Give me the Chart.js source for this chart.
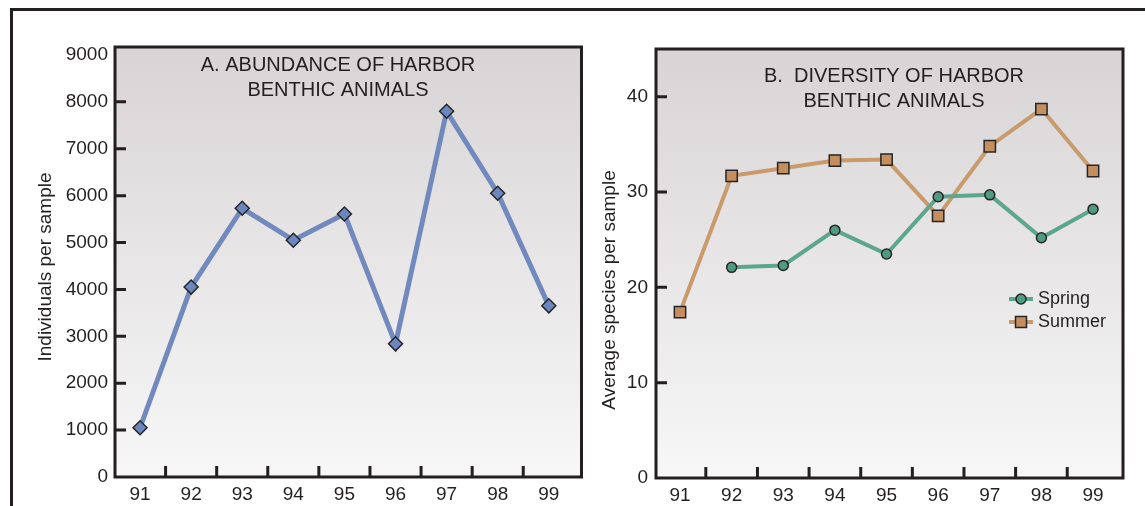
<!DOCTYPE html>
<html>
<head>
<meta charset="utf-8">
<script src="https://cdn.jsdelivr.net/npm/chart.js@4.4.1/dist/chart.umd.min.js"></script>
<style>
  html, body { margin: 0; padding: 0; background: #fff; }
  #page { position: relative; width: 1145px; height: 506px; overflow: hidden; }
  #frame { position: absolute; left: 10px; top: 8px; right: -10px; bottom: -10px;
           border-left: 3px solid #231f20; border-top: 3px solid #231f20; }
  .box { position: absolute; top: 0; height: 506px; }
  #boxA { left: 0; width: 590px; }
  #boxB { left: 580px; width: 565px; }
</style>
</head>
<body>
<div id="page">
  <div id="frame"></div>
  <div class="box" id="boxA"><canvas id="chartA"></canvas></div>
  <div class="box" id="boxB"><canvas id="chartB"></canvas></div>
</div>
<script>
// values
const years = [91, 92, 93, 94, 95, 96, 97, 98, 99];
const abundance = [1050, 4050, 5730, 5050, 5610, 2840, 7800, 6050, 3650];
const spring = [null, 22.1, 22.3, 26.0, 23.5, 29.5, 29.7, 25.2, 28.2];
const summer = [17.4, 31.7, 32.5, 33.3, 33.4, 27.5, 34.8, 38.7, 32.2];
const abundanceTicks = [0, 1000, 2000, 3000, 4000, 5000, 6000, 7000, 8000, 9000];
const diversityTicks = [0, 10, 20, 30, 40];

const INK = '#231f20';
const FONT = '"Liberation Sans", Arial, sans-serif';
const tickFont = { family: FONT, size: 19 };

// tick marks sit between the years
const yearMarks = years.slice(1).map(y => y - 0.5);

const pts = vals => vals.map((v, i) => ({ x: years[i], y: v }));

// background, frame, inward ticks, titles and legend
const panelPlugin = {
  id: 'panel',
  beforeDraw(chart, args, opts) {
    const { ctx, chartArea: a } = chart;
    const g = ctx.createLinearGradient(0, a.top, 0, a.bottom);
    g.addColorStop(0, '#d8d4d6');
    g.addColorStop(1, '#f7f7f7');
    ctx.save();
    ctx.fillStyle = g;
    ctx.fillRect(a.left, a.top, a.right - a.left, a.bottom - a.top);
    ctx.restore();
  },
  afterDraw(chart, args, opts) {
    const { ctx, chartArea: a, scales } = chart;
    ctx.save();
    ctx.strokeStyle = INK;
    ctx.lineWidth = 3;
    ctx.beginPath();
    opts.xMarks.forEach(v => {
      const x = scales.x.getPixelForValue(v);
      ctx.moveTo(x, a.bottom);
      ctx.lineTo(x, a.bottom - 11);
    });
    opts.yMarks.forEach(v => {
      const y = scales.y.getPixelForValue(v);
      ctx.moveTo(a.left, y);
      ctx.lineTo(a.left + 11, y);
    });
    ctx.stroke();
    ctx.strokeRect(a.left, a.top, a.right - a.left, a.bottom - a.top);

    ctx.fillStyle = INK;
    ctx.textAlign = 'center';
    ctx.textBaseline = 'middle';
    ctx.font = '20px ' + FONT;
    opts.title.forEach((t, i) => ctx.fillText(t, opts.titleX, opts.titleY + i * 25));

    ctx.save();
    ctx.translate(opts.axisX, opts.axisY);
    ctx.rotate(-Math.PI / 2);
    ctx.font = '19px ' + FONT;
    ctx.fillText(opts.axisTitle, 0, 0);
    ctx.restore();

    if (opts.legend) {
      const L = opts.legend;
      ctx.textAlign = 'left';
      ctx.font = '18px ' + FONT;
      chart.data.datasets.forEach((ds, i) => {
        const y = L.y + i * 23;
        ctx.strokeStyle = ds.borderColor;
        ctx.lineWidth = 4;
        ctx.beginPath();
        ctx.moveTo(L.x, y);
        ctx.lineTo(L.x + 24, y);
        ctx.stroke();
        ctx.fillStyle = ds.pointBackgroundColor;
        ctx.strokeStyle = ds.pointBorderColor;
        ctx.lineWidth = 1.5;
        ctx.beginPath();
        if (ds.pointStyle === 'circle') {
          ctx.arc(L.x + 12, y, 5, 0, Math.PI * 2);
        } else {
          ctx.rect(L.x + 12 - 5.5, y - 5.5, 11, 11);
        }
        ctx.fill();
        ctx.stroke();
        ctx.fillStyle = INK;
        ctx.fillText(ds.label, L.x + 29, y);
      });
    }
    ctx.restore();
  }
};

function axes(xmin, xmax, ymax, yTicks, yWidth, xHeight, yPad) {
  return {
    x: {
      type: 'linear', min: xmin, max: xmax,
      grid: { display: false, drawTicks: false },
      border: { display: false },
      afterBuildTicks: s => { s.ticks = years.map(v => ({ value: v })); },
      afterFit: s => { s.height = xHeight; },
      ticks: { font: tickFont, color: INK, padding: 6, maxRotation: 0, autoSkip: false,
               callback: v => String(v) }
    },
    y: {
      type: 'linear', min: 0, max: ymax,
      grid: { display: false, drawTicks: false },
      border: { display: false },
      afterBuildTicks: s => { s.ticks = yTicks.map(v => ({ value: v })); },
      afterFit: s => { s.width = yWidth; },
      ticks: { font: tickFont, color: INK, padding: yPad, callback: v => String(v) }
    }
  };
}

new Chart(document.getElementById('chartA'), {
  type: 'line',
  data: {
    datasets: [{
      label: 'Abundance',
      data: pts(abundance),
      borderColor: '#7189bd',
      borderWidth: 5,
      tension: 0,
      pointStyle: 'rectRot',
      pointRadius: 7,
      pointBackgroundColor: '#6c86bf',
      pointBorderColor: '#262626',
      pointBorderWidth: 1.5
    }]
  },
  options: {
    animation: false,
    responsive: true,
    maintainAspectRatio: false,
    layout: { padding: { top: 47, right: 7, left: 0, bottom: 0 } },
    scales: axes(90.51, 99.64, 9170, abundanceTicks, 115, 29, 7),
    plugins: {
      legend: { display: false },
      tooltip: { enabled: false },
      panel: {
        xMarks: yearMarks,
        yMarks: abundanceTicks.slice(1, -1),
        title: ['A. ABUNDANCE OF HARBOR', 'BENTHIC ANIMALS'],
        titleX: 338, titleY: 65,
        axisTitle: 'Individuals per sample', axisX: 46, axisY: 267
      }
    }
  },
  plugins: [panelPlugin]
});

new Chart(document.getElementById('chartB'), {
  type: 'line',
  data: {
    datasets: [{
      label: 'Spring',
      data: pts(spring),
      borderColor: '#5ca68d',
      borderWidth: 4,
      tension: 0,
      pointStyle: 'circle',
      pointRadius: 5,
      pointBackgroundColor: '#4f9a82',
      pointBorderColor: '#262626',
      pointBorderWidth: 1.5
    }, {
      label: 'Summer',
      data: pts(summer),
      borderColor: '#c99a6c',
      borderWidth: 4,
      tension: 0,
      pointStyle: 'rect',
      pointRadius: 8,
      pointBackgroundColor: '#c48e5f',
      pointBorderColor: '#262626',
      pointBorderWidth: 1.5
    }]
  },
  options: {
    animation: false,
    responsive: true,
    maintainAspectRatio: false,
    layout: { padding: { top: 49, right: 22, left: 0, bottom: 0 } },
    scales: axes(90.535, 99.58, 45, diversityTicks, 76, 28, 8),
    plugins: {
      legend: { display: false },
      tooltip: { enabled: false },
      panel: {
        xMarks: yearMarks,
        yMarks: diversityTicks.slice(1),
        title: ['B.  DIVERSITY OF HARBOR', 'BENTHIC ANIMALS'],
        titleX: 314, titleY: 76,
        axisTitle: 'Average species per sample', axisX: 30, axisY: 290,
        legend: { x: 429, y: 299 }
      }
    }
  },
  plugins: [panelPlugin]
});
</script>
</body>
</html>
